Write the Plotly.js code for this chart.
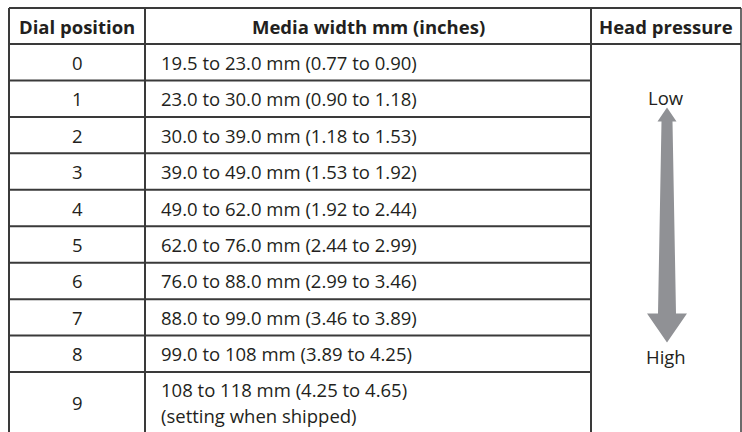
<!DOCTYPE html>
<html><head><meta charset="utf-8">
<script src="https://cdn.plot.ly/plotly-3.0.1.min.js"></script>
<style>html,body{margin:0;padding:0;background:#fff}#chart{width:742px;height:432px}</style>
</head><body><div id="chart"></div>
<script>
// ---- data ----
const headers = ["Dial position", "Media width mm (inches)", "Head pressure"];
const dialPositions = ["0", "1", "2", "3", "4", "5", "6", "7", "8", "9"];
const mediaWidths = [
  "19.5 to 23.0 mm (0.77 to 0.90)",
  "23.0 to 30.0 mm (0.90 to 1.18)",
  "30.0 to 39.0 mm (1.18 to 1.53)",
  "39.0 to 49.0 mm (1.53 to 1.92)",
  "49.0 to 62.0 mm (1.92 to 2.44)",
  "62.0 to 76.0 mm (2.44 to 2.99)",
  "76.0 to 88.0 mm (2.99 to 3.46)",
  "88.0 to 99.0 mm (3.46 to 3.89)",
  "99.0 to 108 mm (3.89 to 4.25)",
  "108 to 118 mm (4.25 to 4.65)\n(setting when shipped)"
];
const pressureLabels = ["Low", "High"];

// ---- geometry (pixel-like data units) ----
const colEdges = [9, 145, 591, 741];
const tableTop = 8, headerBottom = 44, rowH = 36.45, tableBottom = 450;
const lineColor = "#3a3a3a", textColor = "#231f20", font = "Open Sans";
const rowTop = i => headerBottom + i * rowH;

const shapes = [];
const line = (x0, y0, x1, y1, w) => shapes.push({type: "line", xref: "x", yref: "y", x0, y0, x1, y1, line: {color: lineColor, width: w || 2}});
line(colEdges[0], tableTop, colEdges[3], tableTop);
line(colEdges[0], headerBottom, colEdges[3], headerBottom);
colEdges.forEach((x, k) => line(x, tableTop, x, tableBottom, k === 3 ? 1.5 : 2));
for (let i = 1; i < dialPositions.length; i++) line(colEdges[0], rowTop(i), colEdges[2], rowTop(i));

// arrow in the Head pressure column
const cx = (colEdges[2] + colEdges[3]) / 2 + 1;
const aTop = rowTop(1) + 27, aBot = rowTop(8) + 7;
const path = `M ${cx} ${aTop} L ${cx + 9.5} ${aTop + 14} L ${cx + 5.5} ${aTop + 14} L ${cx + 9} ${aBot - 29} L ${cx + 20} ${aBot - 29} L ${cx} ${aBot} L ${cx - 20} ${aBot - 29} L ${cx - 9} ${aBot - 29} L ${cx - 5.5} ${aTop + 14} L ${cx - 9.5} ${aTop + 14} Z`;
shapes.push({type: "path", xref: "x", yref: "y", path, fillcolor: "#909195", line: {width: 0}});

const ann = [];
const txt = (text, x, y, xanchor, bold, size) => ann.push({
  text: bold ? "<b>" + text + "</b>" : text, x, y, xref: "x", yref: "y",
  xanchor, yanchor: "middle", showarrow: false,
  font: {family: font, size: size || 18.5, color: textColor}
});
const hy = (tableTop + headerBottom) / 2;
txt(headers[0], (colEdges[0] + colEdges[1]) / 2, hy, "center", true);
txt(headers[1], (colEdges[1] + colEdges[2]) / 2, hy, "center", true);
txt(headers[2], (colEdges[2] + colEdges[3]) / 2, hy, "center", true);
dialPositions.forEach((d, i) => {
  const lines = mediaWidths[i].split("\n");
  const multi = lines.length > 1;
  const cy = multi ? rowTop(i) + 17 : rowTop(i) + rowH / 2;
  const dy = multi ? rowTop(i) + 30 : cy;
  txt(d, (colEdges[0] + colEdges[1]) / 2, dy, "center");
  lines.forEach((l, k) => txt(l, colEdges[1] + 14, cy + k * 26, "left"));
});
txt(pressureLabels[0], cx - 1, rowTop(1) + 17, "center");
txt(pressureLabels[1], cx - 1, rowTop(8) + 21, "center");

Plotly.newPlot("chart", [], {
  width: 742, height: 432,
  margin: {l: 0, r: 0, t: 0, b: 0},
  paper_bgcolor: "#fff", plot_bgcolor: "#fff",
  xaxis: {range: [0, 742], visible: false, fixedrange: true},
  yaxis: {range: [432, 0], visible: false, fixedrange: true},
  shapes, annotations: ann, showlegend: false
}, {displayModeBar: false, staticPlot: true});
</script>
</body></html>
